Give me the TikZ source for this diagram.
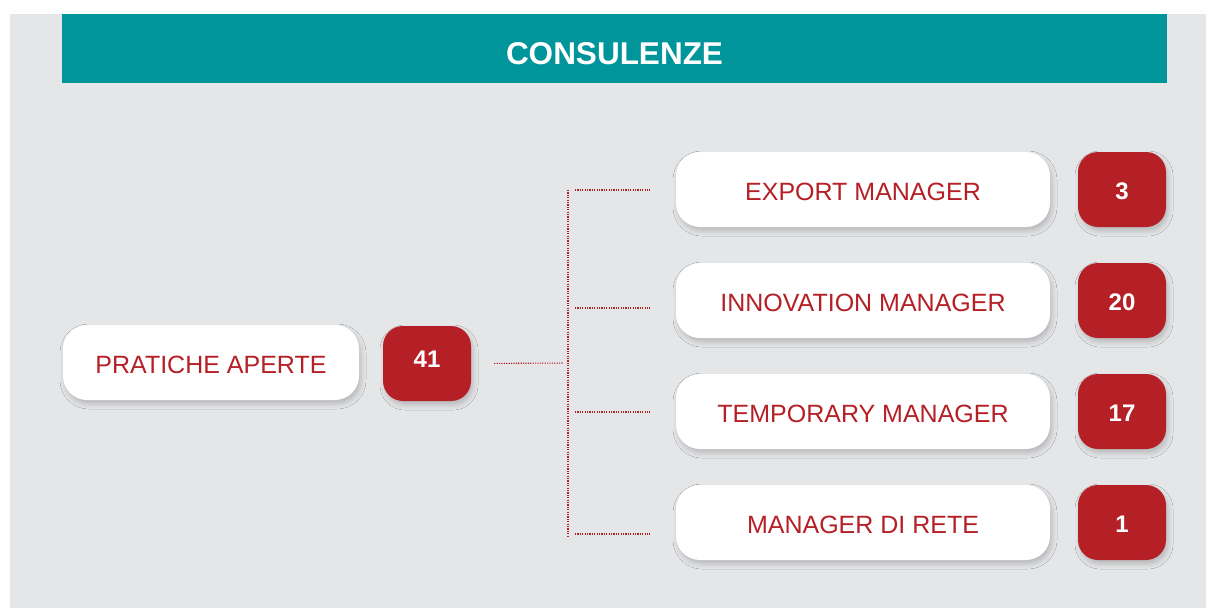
\documentclass[tikz,border=0pt]{standalone}
\usepackage{fontspec}
\setmainfont{Liberation Sans}
\usetikzlibrary{shadows.blur}
\definecolor{bggray}{HTML}{E5E6E8}
\definecolor{teal1}{HTML}{00959A}
\definecolor{red1}{HTML}{B52026}
\tikzset{
  softshadow/.style={blur shadow={shadow xshift=2pt, shadow yshift=-4pt, shadow blur radius=5pt, shadow opacity=20}},
  wbox/.style={fill=white, rounded corners=24pt, minimum width=374pt, minimum height=75pt,
    text=red1, font=\fontsize{25}{30}\selectfont, inner sep=0pt, text depth=0pt, text height=22pt, softshadow},
  rbox/.style={fill=red1, rounded corners=20pt, minimum width=88pt, minimum height=75pt,
    text=white, font=\fontsize{24}{28}\selectfont\bfseries, inner sep=0pt, text depth=0pt, text height=19pt, softshadow},
  conn/.style={draw=red1, line width=1.1pt, dash pattern=on 1.2pt off 1.2pt},
}
\begin{document}
\begin{tikzpicture}[x=1pt,y=-1pt]
\useasboundingbox (0,0) rectangle (1206,608);
\fill[white] (0,0) rectangle (1206,608);
\fill[bggray] (10,14) rectangle (1206,608);
\node[fill=teal1, minimum width=1105pt, minimum height=69pt, inner sep=0pt] (bar) at (614.5,48.5) {};
\node[text=white, font=\fontsize{31.5}{36}\selectfont\bfseries, anchor=base] (title) at (614.5,64) {CONSULENZE};

\node[wbox, minimum width=296pt] (pa) at (211,362.5) {PRATICHE APERTE};
\node[rbox, text depth=12pt] (n41) at (427,363.5) {41};

\node[wbox] (em) at (863,189.5) {EXPORT MANAGER};
\node[wbox] (im) at (863,300.5) {INNOVATION MANAGER};
\node[wbox] (tm) at (863,411.5) {TEMPORARY MANAGER};
\node[wbox] (mr) at (863,522.5) {MANAGER DI RETE};

\node[rbox] (n3) at (1122,189.5) {3};
\node[rbox] (n20) at (1122,300.5) {20};
\node[rbox] (n17) at (1122,411.5) {17};
\node[rbox] (n1) at (1122,522.5) {1};

\coordinate (j) at (568,363);
\coordinate (vt) at (568,190);
\coordinate (vb) at (568,537);
\coordinate (b1) at (568,190);
\coordinate (b2) at (568,308);
\coordinate (b3) at (568,412);
\coordinate (b4) at (568,534);

\draw[conn, shorten <=23pt, shorten >=5pt] (n41.east) -- (j);
\draw[conn] (vt) -- (vb);
\draw[conn, shorten <=7pt] (b1) -- ([xshift=-26pt]b1 -| em.west);
\draw[conn, shorten <=7pt] (b2) -- ([xshift=-26pt]b2 -| em.west);
\draw[conn, shorten <=7pt] (b3) -- ([xshift=-26pt]b3 -| em.west);
\draw[conn, shorten <=7pt] (b4) -- ([xshift=-26pt]b4 -| em.west);
\end{tikzpicture}
\end{document}
